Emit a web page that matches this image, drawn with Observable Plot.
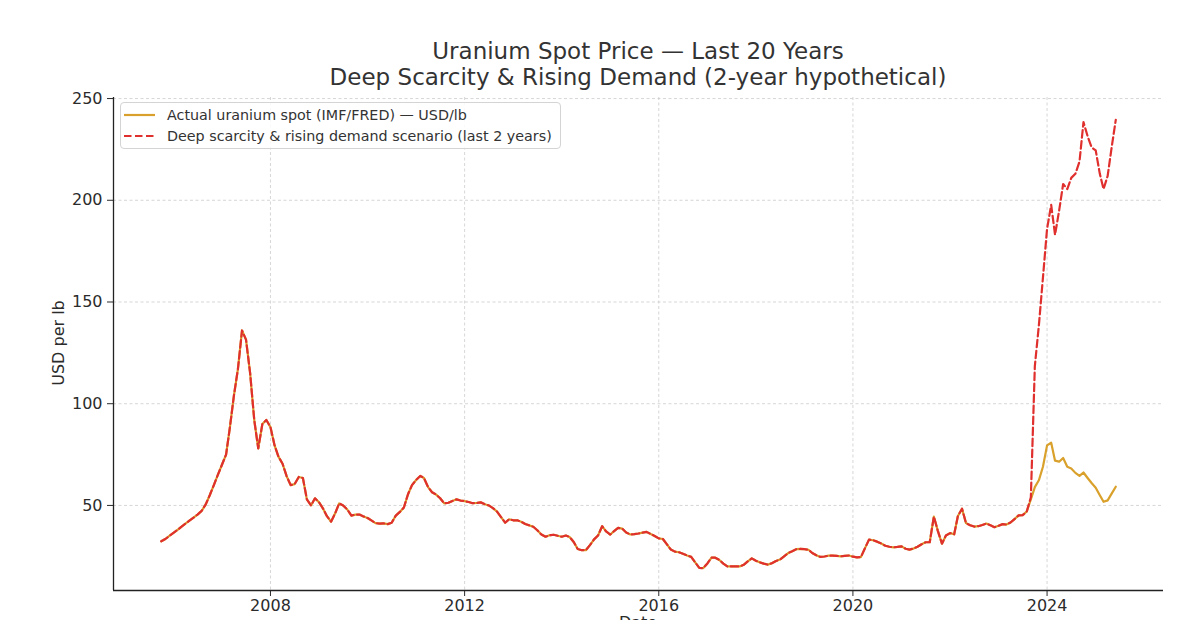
<!DOCTYPE html>
<html>
<head>
<meta charset="utf-8">
<script src="https://cdn.jsdelivr.net/npm/d3@7"></script>
<script src="https://cdn.jsdelivr.net/npm/@observablehq/plot@0.6"></script>
<style>
  body { margin: 0; background: #fff; font-family: "DejaVu Sans", sans-serif; }
  #wrap { position: relative; width: 1200px; height: 620px; overflow: hidden; background: #fff; }
  #title { position: absolute; left: 113px; width: 1050px; top: 38px; text-align: center;
           font-size: 23px; line-height: 26px; color: #333; }
  #chart { position: absolute; left: 0; top: 90px; }
  #ylab { position: absolute; left: 59px; top: 343px; transform: translate(-50%, -50%) rotate(-90deg);
          font-size: 16px; color: #2b2b2b; white-space: nowrap; line-height: 18px; }
  #xlab { position: absolute; left: 113px; width: 1050px; top: 614px; text-align: center;
          font-size: 16px; color: #2b2b2b; line-height: 18px; }
  #legend { position: absolute; left: 120px; top: 102px; width: 441px; height: 47px;
            border: 1px solid #d4d4d4; border-radius: 4px; background: rgba(255,255,255,0.85);
            box-sizing: border-box; font-size: 14.3px; color: #333; }
  .row { position: absolute; left: 3px; height: 20px; display: flex; align-items: center; white-space: nowrap; }
  .row svg { margin-right: 12px; }
</style>
</head>
<body>
<div id="wrap">
  <div id="title">Uranium Spot Price — Last 20 Years<br>Deep Scarcity &amp; Rising Demand (2-year hypothetical)</div>
  <div id="chart"></div>
  <div id="ylab"></div>
  <div id="xlab"></div>
  <div id="legend">
    <div class="row" style="top:2px"><svg width="31" height="6"><line x1="0" y1="3" x2="31" y2="3" stroke="#d9a12b" stroke-width="2.2"/></svg><span id="lab1"></span></div>
    <div class="row" style="top:23px"><svg width="31" height="6"><line x1="0" y1="3" x2="31" y2="3" stroke="#e0302e" stroke-width="2.2" stroke-dasharray="7.5,3.5"/></svg><span id="lab2"></span></div>
  </div>
</div>
<script>
// ---- data (monthly, starting Oct 2005) ----
const startYear = 2005;
const startMonthIndex = 9; // October
const actual = [
  32.4, 33.5, 35, 36.5, 38, 39.5, 41, 42.5, 44, 45.5,
  47.3, 50.5, 55, 60, 65, 70, 75, 88, 104, 117,
  136, 131.5, 115, 92, 78, 90, 92, 88.5, 79.5, 74,
  70.5, 64.5, 60, 60.5, 64, 63.5, 53, 50, 53.5, 51.5,
  48.3, 44.7, 42, 46, 51, 50, 48, 45, 45.5, 45.5,
  44.6, 43.8, 42.5, 41.3, 41.1, 41.2, 40.8, 41.5, 45, 46.8,
  49, 55.5, 60, 62.5, 64.5, 63.5, 59, 56.5, 55.3, 53.5,
  51, 51.3, 52.2, 53, 52.4, 52.1, 51.7, 51.1, 51.2, 51.5,
  50.6, 50, 48.7, 47, 44.3, 41.5, 43.2, 42.7, 42.7, 42,
  40.9, 40.2, 39.5, 37.8, 35.7, 34.6, 35.3, 35.6, 35.1, 34.6,
  35.2, 34.5, 32, 28.6, 28, 28, 30.5, 33.3, 35.2, 39.8,
  37.2, 35.7, 37.5, 39, 38.6, 36.7, 35.7, 35.9, 36.2, 36.6,
  37, 36, 35, 33.8, 33.5, 31, 28.3, 27.3, 27, 26.2,
  25.4, 24.7, 22, 19.3, 19.2, 21.5, 24.3, 24.3, 23.2, 21.4,
  20, 20, 20, 20, 20.8, 22.5, 24, 22.8, 22, 21.4,
  20.9, 21.6, 22.7, 23.4, 25, 26.6, 27.5, 28.5, 28.6, 28.5,
  28.2, 26.6, 25.5, 24.7, 24.9, 25.3, 25.3, 25.2, 25, 25.2,
  25.4, 24.8, 24.5, 24.6, 29, 33.2, 32.9, 32.2, 31.3, 30.2,
  29.7, 29.4, 29.6, 29.9, 28.7, 28.3, 28.8, 29.7, 30.9, 31.9,
  31.9, 44.5, 37.5, 31.2, 35.2, 36.4, 35.8, 44.8, 48.4, 41.3,
  40.3, 39.6, 39.8, 40.4, 41.1, 40.2, 39.3, 40, 40.8, 40.6,
  41.6, 43.3, 45.1, 45.2, 47, 53, 59, 62.5, 69, 79.5,
  80.8, 72, 71.5, 73.3, 69, 68.2, 66, 64.5, 66.2, 63.5,
  61, 58.7, 55, 51.8, 52.5, 55.8, 59.2
];
// hypothetical scenario for the last 24 months
const scenarioTail = [
  45.2, 47, 54, 118.5, 139, 162, 186, 197.7, 183, 195,
  208, 205.5, 211, 213, 219, 238.4, 231.5, 226, 224.5, 213,
  205.5, 212, 226, 239.5
];
const xTickYears = [2008, 2012, 2016, 2020, 2024];
const yTicks = [50, 100, 150, 200, 250];
const labels = {
  actual: "Actual uranium spot (IMF/FRED) — USD/lb",
  scenario: "Deep scarcity & rising demand scenario (last 2 years)",
  x: "Date",
  y: "USD per lb"
};

// ---- build ----
document.getElementById("lab1").textContent = labels.actual;
document.getElementById("lab2").textContent = labels.scenario;
document.getElementById("xlab").textContent = labels.x;
document.getElementById("ylab").textContent = labels.y;

const dates = actual.map((_, i) => new Date(Date.UTC(startYear, startMonthIndex + i, 1)));
const scenario = actual.slice(0, actual.length - scenarioTail.length).concat(scenarioTail);
const actualData = actual.map((v, i) => ({date: dates[i], value: v}));
const scenarioData = scenario.map((v, i) => ({date: dates[i], value: v}));

const t0 = +dates[0], t1 = +dates[dates.length - 1];
const span = t1 - t0;
const xDomain = [new Date(t0 - 0.05 * span), new Date(t1 + 0.05 * span)];
const allV = actual.concat(scenario);
const vmin = d3.min(allV), vmax = d3.max(allV);
const vpad = 0.05 * (vmax - vmin);
const yDomain = [vmin - vpad, vmax + vpad];
const xTicks = xTickYears.map(y => new Date(Date.UTC(y, 0, 1)));

const gridStyle = {stroke: "#cccccc", strokeWidth: 0.8, strokeDasharray: "3,2.5"};

const chart = Plot.plot({
  width: 1200,
  height: 545,
  marginLeft: 113,
  marginRight: 37,
  marginTop: 7,
  marginBottom: 45,
  style: {fontFamily: "DejaVu Sans, sans-serif", fontSize: "16px", color: "#2b2b2b", background: "white", overflow: "visible"},
  x: {type: "utc", domain: xDomain, ticks: xTicks, tickFormat: d3.utcFormat("%Y"), tickSize: 6, tickPadding: 3, label: null},
  y: {domain: yDomain, ticks: yTicks, tickSize: 6, tickPadding: 5, label: null},
  marks: [
    Plot.ruleY(yTicks, gridStyle),
    Plot.ruleX(xTicks, gridStyle),
    Plot.ruleX([xDomain[0]], {stroke: "#222", strokeWidth: 1.3}),
    Plot.ruleY([yDomain[0]], {stroke: "#222", strokeWidth: 1.3}),
    Plot.line(actualData, {x: "date", y: "value", stroke: "#d9a12b", strokeWidth: 2.2}),
    Plot.line(scenarioData, {x: "date", y: "value", stroke: "#e0302e", strokeWidth: 2.2, strokeDasharray: "7.5,3.5"})
  ]
});
document.getElementById("chart").appendChild(chart);
</script>
</body>
</html>
